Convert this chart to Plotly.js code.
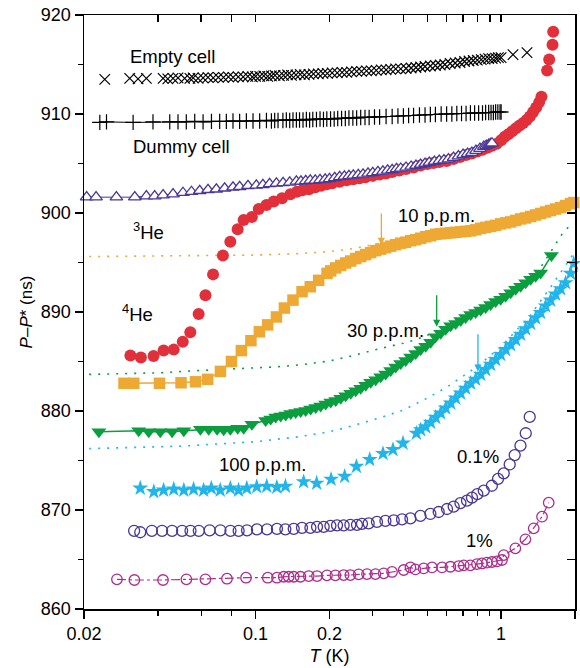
<!DOCTYPE html>
<html>
<head>
<meta charset="utf-8">
<script src="https://cdn.plot.ly/plotly-3.0.1.min.js"></script>
<style>html,body{margin:0;padding:0;background:#fff;}#chart{width:580px;height:668px;}</style>
</head>
<body>
<div id="chart"></div>
<script>
// ---------------- data ----------------
const emptyT = [0.0243,0.0307,0.0332,0.0359,0.042,0.0439,0.0461,0.0483,0.0514,0.054,
  0.0557,0.0583,0.0611,0.064,0.0672,0.0705,0.074,0.0775,0.081,0.085,
  0.089,0.093,0.097,0.1,0.104,0.108,0.112,0.116,0.12,0.125,
  0.13,0.135,0.14,0.146,0.152,0.158,0.165,0.172,0.18,0.188,
  0.196,0.205,0.215,0.225,0.235,0.246,0.258,0.27,0.283,0.296,
  0.31,0.325,0.34,0.355,0.372,0.39,0.41,0.43,0.45,0.47,
  0.49,0.515,0.54,0.565,0.59,0.62,0.65,0.68,0.71,0.74,
  0.77,0.8,0.83,0.86,0.89,0.92,0.95,0.975,1.0,1.118,1.275];
const emptyP = [913.5,913.6,913.55,913.6,913.6,913.55,913.6,913.65,913.6,913.6,
  913.65,913.6,913.65,913.7,913.65,913.7,913.7,913.75,913.7,913.75,
  913.75,913.8,913.75,913.8,913.8,913.85,913.8,913.85,913.9,913.85,
  913.9,913.95,913.9,913.95,914.0,913.95,914.0,914.05,914.05,914.1,
  914.1,914.15,914.15,914.2,914.2,914.25,914.3,914.3,914.35,914.35,
  914.4,914.45,914.45,914.5,914.55,914.55,914.6,914.65,914.7,914.75,
  914.8,914.85,914.9,914.95,915.0,915.1,915.15,915.2,915.3,915.35,
  915.4,915.45,915.5,915.55,915.6,915.6,915.65,915.7,915.7,916.0,916.2];

const dummyT = [0.0232,0.0247,0.0317,0.0382,0.0447,0.0483,0.0522,0.0565,0.0611,0.0661,
  0.0714,0.076,0.0809,0.0861,0.0917,0.0976,0.1039,0.1107,0.116,0.1196,
  0.1234,0.1292,0.1334,0.1377,0.142,0.1466,0.151,0.156,0.161,0.166,
  0.171,0.177,0.183,0.189,0.195,0.202,0.209,0.216,0.224,0.232,
  0.24,0.249,0.258,0.268,0.279,0.29,0.305,0.32,0.34,0.36,
  0.38,0.40,0.42,0.44,0.465,0.49,0.515,0.54,0.57,0.60,
  0.63,0.66,0.69,0.72,0.75,0.78,0.81,0.84,0.865,0.89,
  0.91,0.93,0.95,0.97,0.99,1.0];
const dummyP = [909.15,909.2,909.15,909.2,909.2,909.2,909.2,909.25,909.2,909.25,
  909.25,909.25,909.3,909.25,909.3,909.3,909.3,909.35,909.3,909.35,
  909.35,909.35,909.4,909.35,909.4,909.4,909.4,909.4,909.45,909.4,
  909.45,909.45,909.5,909.45,909.5,909.5,909.5,909.55,909.55,909.55,
  909.6,909.6,909.6,909.65,909.65,909.65,909.7,909.7,909.75,909.75,
  909.8,909.8,909.85,909.85,909.9,909.9,909.95,909.95,910.0,910.0,
  910.0,910.05,910.05,910.05,910.1,910.1,910.1,910.1,910.15,910.15,
  910.15,910.15,910.2,910.2,910.2,910.2];

const triT = [0.0205,0.0224,0.0271,0.0322,0.0359,0.0388,0.042,0.0461,0.0506,0.0548,
  0.0592,0.064,0.0692,0.0748,0.0809,0.0861,0.0931,0.1007,0.1071,0.114,
  0.1216,0.1294,0.1377,0.1466,0.153,0.16,0.167,0.175,0.183,0.192,
  0.2,0.21,0.22,0.23,0.24,0.25,0.262,0.274,0.287,0.3,
  0.315,0.33,0.345,0.36,0.375,0.39,0.41,0.43,0.45,0.47,
  0.49,0.51,0.535,0.56,0.585,0.61,0.64,0.67,0.70,0.73,
  0.76,0.79,0.82,0.85,0.87,0.89,0.905,0.918];
const triP = [901.6,901.6,901.6,901.6,901.7,901.7,901.8,901.9,902.05,902.15,
  902.25,902.35,902.4,902.5,902.6,902.65,902.75,902.8,902.85,902.95,
  903.0,903.05,903.1,903.2,903.2,903.25,903.3,903.3,903.35,903.4,
  903.45,903.55,903.65,903.7,903.75,903.8,903.85,903.9,904.0,904.05,
  904.15,904.2,904.3,904.35,904.45,904.5,904.6,904.7,904.8,904.9,
  905.0,905.1,905.2,905.3,905.35,905.45,905.6,905.75,905.9,906.0,
  906.1,906.3,906.5,906.7,906.8,906.9,907.0,907.05];

const he3T = [0.0309,0.0341,0.0384,0.0422,0.0464,0.0505,0.0542,0.0586,0.0625,0.0671,
  0.0736,0.0789,0.0845,0.0894,0.0966,0.103,0.1107,0.1185,0.1281,0.1386,
  0.1474,0.155,0.165,0.175,0.185,0.195,0.205,0.22,0.235,0.25,
  0.265,0.28,0.30,0.32,0.34,0.36,0.385,0.41,0.44,0.47,
  0.50,0.53,0.56,0.60,0.64,0.68,0.72,0.76,0.80,0.84,
  0.88,0.92,0.96,1.0,1.035,1.07,1.11,1.15,1.19,1.23,
  1.27,1.31,1.35,1.39,1.43,1.46,1.54,1.57,1.62,1.63];
const he3P = [885.6,885.4,885.55,886.1,886.2,887.0,887.95,889.8,891.7,893.8,
  895.7,897.1,898.35,899.3,899.6,900.4,900.8,901.15,901.5,901.9,
  902.15,902.3,902.4,902.6,902.75,902.9,903.0,903.15,903.3,903.4,
  903.5,903.6,903.75,903.9,904.0,904.15,904.3,904.45,904.6,904.8,
  904.95,905.05,905.15,905.25,905.45,905.65,905.85,906.0,906.2,906.4,
  906.6,906.8,907.0,907.35,907.7,907.95,908.25,908.55,908.85,909.1,
  909.4,909.75,910.2,910.65,911.2,911.75,914.4,915.5,917.0,918.3];

const ppm10T = [0.0291,0.0319,0.0406,0.0497,0.0569,0.0638,0.0719,0.0797,0.0875,0.0957,
  0.1036,0.112,0.1216,0.131,0.142,0.1546,0.167,0.1807,0.1955,
  0.2023,0.212,0.2222,0.2328,0.244,0.2557,0.268,0.2808,0.2943,0.3084,
  0.3232,0.3387,0.355,0.372,0.3899,0.4086,0.4282,0.4488,0.4703,0.4929,
  0.5165,0.5413,0.5673,0.5945,0.6231,0.6529,0.6843,0.7171,0.7515,0.7876,
  0.8254,0.865,0.9065,0.95,0.9956,1.0434,1.0935,1.1459,1.201,1.2586,
  1.319,1.3823,1.4486,1.5181,1.591,1.6673,1.7473,1.8312,1.9191,1.9758];
const ppm10P = [882.8,882.8,882.8,882.85,882.95,883.2,884.0,885.0,886.1,887.1,
  888.0,888.7,889.5,890.4,891.2,892.05,892.55,893.2,893.9,
  894.15,894.45,894.7,894.95,895.15,895.4,895.6,895.8,896.0,896.2,
  896.35,896.5,896.65,896.8,896.95,897.05,897.2,897.3,897.45,897.6,
  897.7,897.85,897.9,897.95,898.0,898.05,898.1,898.15,898.2,898.3,
  898.45,898.55,898.65,898.75,898.9,899.0,899.1,899.25,899.4,899.5,
  899.65,899.8,899.95,900.1,900.25,900.4,900.55,900.75,900.95,901.05];

const ppm30T = [0.023,0.0334,0.0367,0.0409,0.0457,0.051,0.0596,0.0644,0.0697,0.0741,
  0.0789,0.0845,0.0894,0.0966,
  0.1099,0.1152,0.1207,0.1265,0.1326,0.139,0.1456,0.1526,0.1599,0.1676,
  0.1757,0.1841,0.1929,0.2023,0.212,0.2222,0.2328,0.244,0.2557,0.268,
  0.2808,0.2943,0.3084,0.3232,0.3387,0.355,0.372,0.3899,0.4086,0.4282,
  0.4488,0.4703,0.4929,0.5165,0.5413,0.5673,0.5945,0.6231,0.6529,0.6843,
  0.7171,0.7515,0.7876,0.8254,0.865,0.9065,0.95,0.9956,1.0434,1.0935,
  1.1459,1.201,1.2586,1.319,1.3823,1.4486,1.603];
const ppm30P = [877.9,878.0,877.9,877.9,877.9,878.0,878.15,878.15,878.15,878.1,
  878.15,878.25,878.25,878.65,
  879.05,879.2,879.4,879.5,879.6,879.75,879.85,879.95,880.05,880.2,
  880.35,880.5,880.7,880.9,881.05,881.3,881.55,881.8,882.05,882.3,
  882.6,882.9,883.15,883.45,883.75,884.1,884.45,884.8,885.1,885.45,
  885.8,886.2,886.55,886.95,887.5,887.85,888.25,888.6,888.85,889.15,
  889.45,889.75,889.95,890.2,890.45,890.75,891.05,891.3,891.6,891.95,
  892.3,892.6,892.95,893.3,893.6,893.95,895.7];

const ppm100T = [0.0339,0.0385,0.0422,0.0464,0.051,0.0559,0.0614,0.066,0.0718,0.0789,
  0.0852,0.0921,0.1011,0.111,0.122,0.1323,0.1569,0.1773,0.203,0.2306,
  0.2574,0.2916,0.3303,0.3628,0.3986,0.4519,
  0.4703,0.4929,0.5165,0.5413,0.5673,0.5945,0.6231,0.6529,0.6843,0.7171,
  0.7515,0.7876,0.8254,0.865,0.9065,0.95,0.9956,1.0434,1.0935,1.1459,
  1.201,1.2586,1.319,1.3823,1.4486,1.5181,1.591,1.6673,1.7473,1.8312,
  1.9191,1.9758];
const ppm100P = [872.2,871.85,872.0,872.1,872.0,872.1,872.0,872.2,872.0,872.2,
  872.0,872.2,872.35,872.4,872.3,872.4,872.85,872.7,873.1,873.4,
  874.4,875.1,875.7,876.1,876.75,877.75,
  878.1,878.4,878.85,879.35,879.8,880.3,880.8,881.3,881.8,882.3,
  882.8,883.2,883.7,884.2,884.7,885.2,885.7,886.2,886.7,887.2,
  887.75,888.3,888.85,889.4,889.95,890.6,891.2,891.8,892.35,892.95,
  893.9,894.9];

const pct01T = [0.032,0.0339,0.0378,0.0416,0.0457,0.0502,0.0543,0.0587,0.065,0.0719,
  0.079,0.0853,0.0923,0.1013,0.1113,0.1222,0.1322,0.143,0.1545,0.1672,
  0.1779,0.1894,0.2017,0.2146,0.2284,0.2432,0.2588,0.2712,0.2888,0.3122,
  0.3379,0.3653,0.3949,0.4272,0.4692,0.5152,0.557,0.6021,0.641,0.6829,
  0.7263,0.761,0.80,0.85,0.917,0.972,1.025,1.084,1.136,1.199,
  1.26,1.308];
const pct01P = [867.9,867.75,867.9,867.9,867.9,867.9,867.9,867.9,867.95,867.95,
  867.9,867.9,867.95,868.05,868.05,868.1,868.05,868.1,868.2,868.2,
  868.3,868.3,868.4,868.45,868.45,868.5,868.5,868.6,868.65,868.8,
  868.9,868.95,869.05,869.15,869.4,869.6,869.8,870.1,870.35,870.7,
  870.95,871.25,871.6,871.95,872.45,873.15,873.7,874.6,875.55,876.5,
  877.75,879.4];

const pct1T = [0.02724,0.03208,0.04196,0.05225,0.06245,0.07645,0.09141,0.1121,0.1222,0.1302,
  0.1364,0.143,0.1523,0.1646,0.1779,0.1953,0.2113,0.2284,0.2432,0.263,
  0.2843,0.3076,0.3326,0.3596,0.4011,0.4272,0.4477,0.4839,0.5232,0.5746,
  0.6216,0.6721,0.7044,0.7497,0.7975,0.8357,0.8758,0.9178,0.9619,1.008,
  1.025,1.143,1.256,1.358,1.468,1.563];
const pct1P = [863.0,862.93,862.93,863.0,863.0,863.06,863.16,863.16,863.16,863.26,
  863.26,863.26,863.26,863.33,863.33,863.4,863.4,863.43,863.43,863.5,
  863.53,863.53,863.6,863.74,863.94,864.2,864.0,864.1,864.2,864.2,
  864.27,864.34,864.41,864.41,864.54,864.6,864.68,864.75,864.81,864.95,
  865.45,866.13,867.04,868.15,869.33,870.74];

// dotted model curves
const fit10T = [0.021,0.05,0.1,0.15,0.2,0.25,0.3,0.33];
const fit10P = [895.6,895.65,895.75,895.9,896.1,896.4,896.75,897.0];
const fit30T = [0.021,0.04,0.06,0.09,0.12,0.15,0.2,0.25,0.32,0.4,0.45,0.6,0.8,1.0,1.2,1.44,1.6,1.78,1.95];
const fit30P = [883.7,883.85,884.1,884.3,884.45,884.65,885.05,885.6,886.3,886.85,887.2,888.4,889.9,891.3,892.7,894.4,896.2,897.95,899.0];
const fit100T = [0.021,0.05,0.1,0.15,0.2,0.24,0.32,0.4,0.5,0.6,0.8,1.0,1.3,1.6,2.0];
const fit100P = [876.2,876.45,876.9,877.4,877.9,878.4,879.3,880.1,881.3,882.4,884.5,886.5,889.5,892.6,896.1];

// text labels
const labelText = ['Empty cell','Dummy cell','<sup>3</sup>He','<sup>4</sup>He','10 p.p.m.','30 p.p.m.','100 p.p.m.','0.1%','1%'];
const labelT = [0.0302,0.031,0.031,0.0281,0.3746,0.2306,0.0697,0.647,0.706];
const labelP = [915.76,906.67,898.2,889.87,899.75,888.18,874.55,875.4,866.9];

// transition arrows (tip positions)
const arrowT = [0.3253,0.5465,0.805];
const arrowP = [896.77,888.5,883.97];
const arrowLen = [33,33,39];

// tick values
const xMajor = [0.02,0.1,0.2,1,2];
const xMajorText = ['0.02','0.1','0.2','1','2'];
const xMinor = [0.04,0.06,0.08,0.3,0.4,0.5,0.6,0.7,0.8,0.9];
const xTop = [0.04,0.06,0.08,0.1,0.2,0.3,0.4,0.5,0.6,0.7,0.8,0.9,1];
const yMajor = [860,870,880,890,900,910,920];
const yMinor = [865,875,885,895,905,915];
const yRight = [865,870,875,880,885,890,895,900,905,910,915];

// ---------------- styling ----------------
const C = {
  red:'#e2303a', orange:'#eea834', green:'#0a9e3e', blue:'#21b5ea',
  purple:'#4a3797', magenta:'#ad2c8e', black:'#000000'
};
const FONT = 'Arial, "Liberation Sans", Helvetica, sans-serif';
const DOTS = '2px,7px';

const traces = [
  {x:fit10T, y:fit10P, mode:'lines', line:{color:C.orange, width:1.6, dash:DOTS}},
  {x:fit30T, y:fit30P, mode:'lines', line:{color:C.green, width:1.6, dash:DOTS}},
  {x:fit100T, y:fit100P, mode:'lines', line:{color:C.blue, width:1.6, dash:DOTS}},
  {x:he3T, y:he3P, mode:'markers', marker:{symbol:'circle', size:12, color:C.red}},
  {x:triT, y:triP, mode:'lines+markers', line:{color:C.purple, width:1},
    marker:{symbol:'triangle-up', size:11, color:'#ffffff', line:{color:C.purple, width:1.3}}},
  {x:emptyT, y:emptyP, mode:'markers',
    marker:{symbol:'x-thin', size:10.5, color:C.black, line:{color:C.black, width:1.2}}},
  {x:dummyT, y:dummyP, mode:'lines+markers', line:{color:C.black, width:1},
    marker:{symbol:'cross-thin', size:11, color:C.black, line:{color:C.black, width:1.2}}},
  {x:ppm10T, y:ppm10P, mode:'lines+markers', line:{color:C.orange, width:1.5},
    marker:{symbol:'square', size:11.5, color:C.orange}},
  {x:ppm30T, y:ppm30P, mode:'lines+markers', line:{color:C.green, width:1.5},
    marker:{symbol:'triangle-down', size:13, color:C.green}},
  {x:ppm100T, y:ppm100P, mode:'markers', marker:{symbol:'star', size:12, color:C.blue}},
  {x:pct01T, y:pct01P, mode:'markers',
    marker:{symbol:'circle-open', size:11, color:C.purple, line:{width:1.3}}},
  // the 1% series is drawn on the (identical) mirror axes so that they are rendered as a frame
  {x:pct1T, y:pct1P, xaxis:'x2', yaxis:'y2', mode:'lines+markers',
    line:{color:C.magenta, width:1.2, dash:'dashdot'},
    marker:{symbol:'circle-open', size:10.5, color:C.magenta, line:{width:1.3}}}
].map(t => Object.assign({type:'scatter', hoverinfo:'skip', showlegend:false, cliponaxis:false}, t));

const annotations = [];
labelText.forEach((txt, i) => annotations.push({
  xref:'x', yref:'y', x:Math.log10(labelT[i]), y:labelP[i], text:txt,
  showarrow:false, xanchor:'left', yanchor:'middle',
  font:{family:FONT, size:18.5, color:'#000'}
}));
const arrowColors = [C.orange, C.green, C.blue];
arrowT.forEach((t, i) => annotations.push({
  xref:'x', yref:'y', x:Math.log10(t), y:arrowP[i], text:'',
  showarrow:true, arrowhead:2, arrowsize:1.1, arrowwidth:1.3, arrowcolor:arrowColors[i],
  ax:0, ay:-arrowLen[i], standoff:0
}));

const xr = [Math.log10(0.02), Math.log10(2)];
const yr = [860, 920];
const axisCommon = {showgrid:false, zeroline:false, showline:true, linecolor:'#000', linewidth:1.5,
  tickcolor:'#000', tickwidth:1.3, tickfont:{family:FONT, size:18, color:'#000'}};

const layout = {
  width:580, height:668,
  margin:{l:84, r:5, t:15, b:59, pad:0},
  paper_bgcolor:'#fff', plot_bgcolor:'#fff',
  font:{family:FONT, size:18, color:'#000'},
  xaxis: Object.assign({}, axisCommon, {
    type:'log', range:xr, tickmode:'array', tickvals:xMajor, ticktext:xMajorText,
    ticks:'outside', ticklen:8,
    minor:{tickmode:'array', tickvals:xMinor, ticks:'outside', ticklen:5, tickwidth:1.2, tickcolor:'#000'},
    title:{text:'<i>T</i> (K)', font:{family:FONT, size:18}, standoff:6}
  }),
  yaxis: Object.assign({}, axisCommon, {
    range:yr, tickmode:'array', tickvals:yMajor, ticks:'outside', ticklen:8,
    minor:{tickmode:'array', tickvals:yMinor, ticks:'outside', ticklen:5, tickwidth:1.2, tickcolor:'#000'},
    title:{text:'<i>P</i>–<i>P</i>* (ns)', font:{family:FONT, size:17}, standoff:4}
  }),
  xaxis2: Object.assign({}, axisCommon, {
    type:'log', range:xr, overlaying:'x', side:'top', anchor:'y2',
    tickmode:'array', tickvals:xTop, ticks:'inside', ticklen:7, showticklabels:false
  }),
  yaxis2: Object.assign({}, axisCommon, {
    range:yr, overlaying:'y', side:'right', anchor:'x2',
    tickmode:'array', tickvals:yRight, ticks:'inside', ticklen:8, showticklabels:false
  }),
  annotations: annotations,
  showlegend:false
};

Plotly.newPlot('chart', traces, layout, {staticPlot:true, displayModeBar:false});
</script>
</body>
</html>
